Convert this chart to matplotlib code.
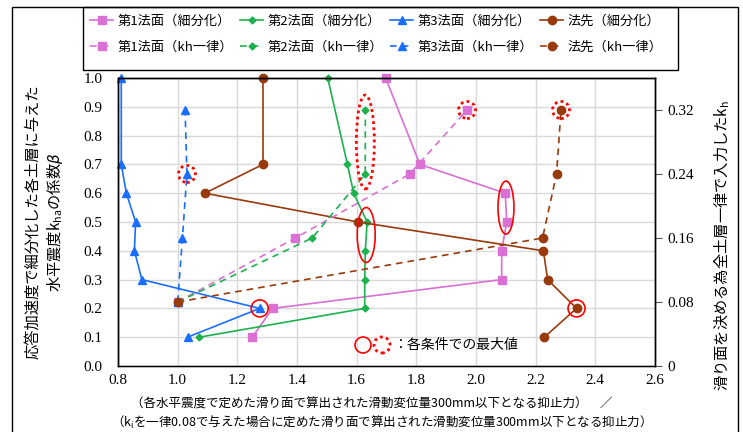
import numpy as np
import matplotlib
matplotlib.use('Agg')
import matplotlib.pyplot as plt
from matplotlib.patches import Ellipse, Rectangle

plt.rcParams['font.family'] = ['Noto Sans CJK JP', 'DejaVu Sans']
plt.rcParams['mathtext.fontset'] = 'custom'
plt.rcParams['mathtext.rm'] = 'Noto Sans CJK JP'

# beta levels (left axis) for the "細分化" series
beta = [1.0, 0.7, 0.6, 0.5, 0.4, 0.3, 0.2, 0.1]
men1_sub = [1.697, 1.812, 2.098, 2.103, 2.086, 2.086, 1.318, 1.250]
men2_sub = [1.503, 1.569, 1.590, 1.635, 1.629, 1.627, 1.627, 1.072]
men3_sub = [0.811, 0.811, 0.828, 0.859, 0.855, 0.880, 1.275, 1.033]
hosaki_sub = [1.286, 1.286, 1.091, 1.605, 2.226, 2.240, 2.337, 2.229]

# kh levels (right axis) for the "kh一律" series
kh = [0.08, 0.16, 0.24, 0.32]
men1_kh = [1.0, 1.394, 1.778, 1.970]
men2_kh = [1.0, 1.451, 1.629, 1.629]
men3_kh = [1.0, 1.016, 1.031, 1.025]
hosaki_kh = [1.0, 2.223, 2.270, 2.285]

pink = '#DA6FD4'
green = '#1DB14E'
blue = '#1A6EFF'
brown = '#993A0C'

fig = plt.figure(figsize=(7.43, 4.32), dpi=100)
ax = fig.add_axes([118 / 743, 1 - 366 / 432, 537 / 743, 288 / 432])
ax2 = ax.twinx()

lw = 1.2
dash = (0, (4, 3))
h = []
h.append(ax.plot(men1_sub, beta, color=pink, lw=lw, marker='s', ms=6, clip_on=False, label='第1法面（細分化）')[0])
h.append(ax2.plot(men1_kh, kh, color=pink, lw=lw, ls=dash, marker='s', ms=6, clip_on=False, label='第1法面（kh一律）')[0])
h.append(ax.plot(men2_sub, beta, color=green, lw=lw, marker='D', ms=3.5, clip_on=False, label='第2法面（細分化）')[0])
h.append(ax2.plot(men2_kh, kh, color=green, lw=lw, ls=dash, marker='D', ms=3.5, clip_on=False, label='第2法面（kh一律）')[0])
h.append(ax.plot(men3_sub, beta, color=blue, lw=lw, marker='^', ms=5.5, clip_on=False, label='第3法面（細分化）')[0])
h.append(ax2.plot(men3_kh, kh, color=blue, lw=lw, ls=dash, marker='^', ms=5.5, clip_on=False, label='第3法面（kh一律）')[0])
h.append(ax.plot(hosaki_sub, beta, color=brown, lw=lw, marker='o', ms=6, clip_on=False, label='法先（細分化）')[0])
h.append(ax2.plot(hosaki_kh, kh, color=brown, lw=lw, ls=dash, marker='o', ms=6, clip_on=False, label='法先（kh一律）')[0])

ax.set_xlim(0.8, 2.6)
ax.set_ylim(0, 1.0)
ax2.set_ylim(0, 0.36)
ax.set_xticks(np.arange(0.8, 2.61, 0.2))
ax.set_yticks(np.arange(0, 1.01, 0.1))
ax.set_xticklabels(['%.1f' % v for v in np.arange(0.8, 2.61, 0.2)], family='Liberation Serif', fontsize=11)
ax.set_yticklabels(['%.1f' % v for v in np.arange(0, 1.01, 0.1)], family='Liberation Serif', fontsize=11)
ax2.set_yticks([0, 0.08, 0.16, 0.24, 0.32])
ax2.set_yticklabels(['0', '0.08', '0.16', '0.24', '0.32'], family='Liberation Serif', fontsize=11)
ax.tick_params(axis='both', length=0, pad=11)
ax.tick_params(axis='x', pad=6)
ax2.tick_params(axis='y', length=5, width=0.8, color='#555555', pad=4)
ax.grid(True, color='#D9D9D9', lw=1)
ax.set_axisbelow(True)
for a in (ax, ax2):
    for s in a.spines.values():
        s.set_color('black')
        s.set_linewidth(1)
ax.spines['bottom'].set_color('#888888')

# px -> data unit helpers
sx = 1.8 / 537
sy = 1.0 / 288
sk = 0.36 / 288


def ring(a, x, y, wpx, hpx, yscale, dotted=False):
    e = Ellipse((x, y), wpx * sx, hpx * yscale, fill=False, edgecolor='red',
                lw=2.0 if dotted else 1.2, ls=(0, (1, 1.2)) if dotted else '-',
                clip_on=False, zorder=5)
    a.add_patch(e)


# solid red marks (細分化 maxima)
ring(ax, men3_sub[6], beta[6], 17, 17, sy)
ring(ax, hosaki_sub[6], beta[6], 17, 17, sy)
ring(ax, (men2_sub[3] + men2_sub[4]) / 2, 0.455, 18, 55, sy)
ring(ax, (men1_sub[2] + men1_sub[3]) / 2, 0.55, 16, 53, sy)
# dotted red marks (kh一律 maxima)
ring(ax2, men3_kh[2], kh[2], 17, 17, sk, True)
ring(ax2, men1_kh[3], kh[3], 17, 17, sk, True)
ring(ax2, hosaki_kh[3], kh[3], 17, 17, sk, True)
ring(ax2, men2_kh[2], (kh[2] + kh[3]) / 2, 18, 94, sk, True)

# note for the red marks
ax.add_patch(Ellipse((363, 432 - 345), 16, 16, transform=None, fill=False, edgecolor='red', lw=1.2))
ax.add_patch(Ellipse((382, 432 - 345), 16, 16, transform=None, fill=False, edgecolor='red', lw=2.0, ls=(0, (1, 1.2))))
fig.text(393 / 743, 1 - 345 / 432, '：各条件での最大値', fontsize=10, va='center', ha='left')

# axis titles
fig.text(45 / 743, 1 - 222 / 432, '応答加速度で細分化した各土層に与えた\n水平震度$\\mathregular{k_{ha}}$の係数$\\it{\\beta}$',
         rotation=90, ha='center', va='center', fontsize=11, linespacing=1.25)
fig.text(722 / 743, 1 - 245 / 432, '滑り面を決める為全土層一律で入力した$\\mathregular{k_h}$',
         rotation=90, ha='center', va='center', fontsize=11)
fig.text(372 / 743, 1 - 404 / 432, '（各水平震度で定めた滑り面で算出された滑動変位量300mm以下となる抑止力）　／',
         ha='center', va='center', fontsize=9)
fig.text(378 / 743, 1 - 422 / 432, '（$\\mathregular{k_i}$を一律0.08で与えた場合に定めた滑り面で算出された滑動変位量300mm以下となる抑止力）',
         ha='center', va='center', fontsize=9)

# legend with its own box
fig.add_artist(Rectangle((83 / 743, 1 - 70 / 432), 595 / 743, 63 / 432, transform=fig.transFigure,
                         fill=False, edgecolor='black', lw=1))
fig.legend(handles=h, loc='upper left', bbox_to_anchor=(83 / 743, 1 - 7 / 432), ncol=4, frameon=False,
           fontsize=9.5, handlelength=1.75, handletextpad=0.3, columnspacing=0.55, labelspacing=1.05,
           borderaxespad=0, borderpad=0.55)

# outer chart border
fig.add_artist(Rectangle((12 / 743, -0.1), 726 / 743, 1.1 - 7 / 432, transform=fig.transFigure,
                         fill=False, edgecolor='black', lw=1, clip_on=False))

fig.savefig('out.png', dpi=100)
